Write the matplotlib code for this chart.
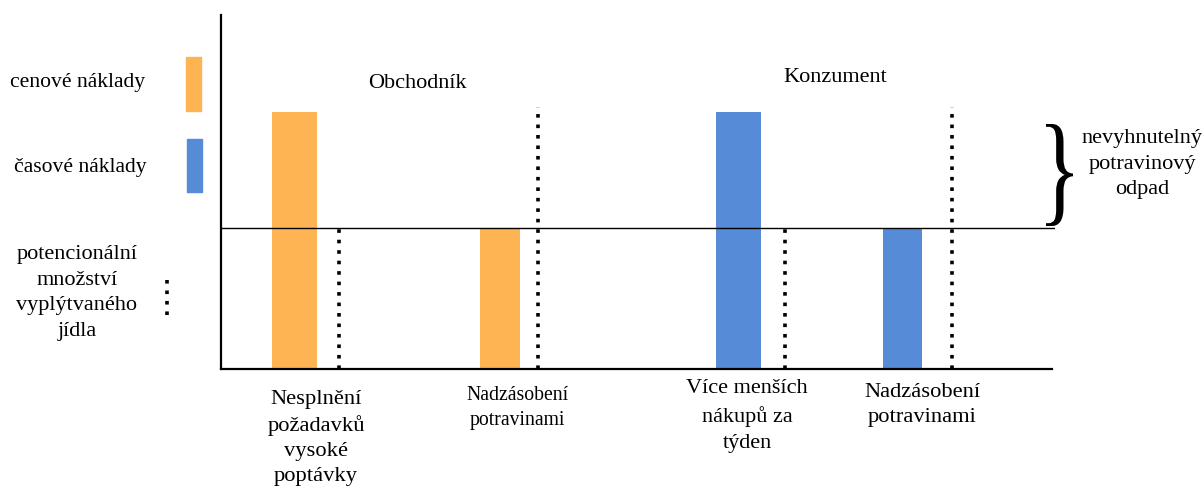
import numpy as np
import matplotlib
matplotlib.use('Agg')
import matplotlib.pyplot as plt
from matplotlib.patches import Rectangle, PathPatch
from matplotlib.textpath import TextPath
from matplotlib.font_manager import FontProperties
import matplotlib.transforms as mtransforms

plt.rcParams['font.family'] = ['Liberation Serif', 'DejaVu Serif']

# data
categories = ["Nesplnění\npožadavků\nvysoké\npoptávky", "Nadzásobení\npotravinami",
              "Více menších\nnákupů za\ntýden", "Nadzásobení\npotravinami"]
groups = ["Obchodník", "Konzument"]
cenove = [1.82, 1.0]          # orange bars (Obchodník)
casove = [1.82, 1.0]          # blue bars (Konzument)
potencial = [1.0, 1.86, 1.0, 1.86]   # dotted lines
neodvratitelny = 1.0          # horizontal threshold
legend_labels = ["cenové náklady", "časové náklady",
                 "potencionální\nmnožství\nvyplýtvaného\njídla"]
brace_label = "nevyhnutelný\npotravinový\nodpad"

orange = '#FFB454'
blue = '#568BD8'

W, H = 1204, 488
fig = plt.figure(figsize=(W / 100, H / 100), dpi=100)

def fx(px):
    return px / W

def fy(py):
    return 1 - py / H

ax = fig.add_axes([fx(221), fy(369), fx(1055) - fx(221), fy(15) - fy(369)])
ax.set_xlim(0, 8.34)
ax.set_ylim(0, 2.51)
for s in ['top', 'right']:
    ax.spines[s].set_visible(False)
ax.spines['left'].set_linewidth(1.6)
ax.spines['bottom'].set_linewidth(1.6)
ax.spines['bottom'].set_bounds(0, 8.31)
ax.set_xticks([])
ax.set_yticks([])

bar_x = [0.735, 2.79, 5.175, 6.815]
bar_w = [0.45, 0.40, 0.45, 0.39]
dot_x = [1.18, 3.17, 5.64, 7.31]
bar_vals = cenove + casove
bar_cols = [orange, orange, blue, blue]

ax.bar(bar_x, bar_vals, width=bar_w, color=bar_cols, zorder=2)
ax.axhline(neodvratitelny, color='black', lw=1.0, zorder=3)
for x, v in zip(dot_x, potencial):
    ax.vlines(x, 0, v, colors='black', linestyles=(0, (1, 1.9)), lw=2.6, zorder=4)

# category labels: x, y centre, fontsize, linespacing
cat_pos = [(316, 438, 16.2, 1.42), (517, 408, 14.2, 1.5), (747, 416, 16, 1.52),
           (922, 405, 16.2, 1.36)]
for lab, (x, y, fs, ls) in zip(categories, cat_pos):
    fig.text(fx(x), fy(y), lab, ha='center', va='center', fontsize=fs, linespacing=ls)

# group titles
fig.text(fx(417), fy(83), groups[0], ha='center', va='center', fontsize=16)
fig.text(fx(835), fy(77), groups[1], ha='center', va='center', fontsize=16)

# legend
fig.text(fx(78), fy(83), legend_labels[0], ha='center', va='center', fontsize=15.6)
fig.text(fx(80), fy(168), legend_labels[1], ha='center', va='center', fontsize=15.6)
fig.text(fx(77), fy(293), legend_labels[2], ha='center', va='center', fontsize=16,
         linespacing=1.47)
fig.add_artist(Rectangle((fx(186), fy(111)), fx(15), 54 / H, transform=fig.transFigure,
                         color=orange))
fig.add_artist(Rectangle((fx(187), fy(192)), fx(15), 53 / H, transform=fig.transFigure,
                         color=blue))
fig.add_artist(plt.Line2D([fx(167), fx(167)], [fy(280), fy(318)], transform=fig.transFigure,
                          color='black', lw=2.6, linestyle=(0, (1, 1.9))))

# brace
tp = TextPath((0, 0), "}", size=1, prop=FontProperties(family='Liberation Serif'))
ext = tp.get_extents()
bx0, bx1, by0, by1 = 1046, 1073, 124, 226
tr = (mtransforms.Affine2D()
      .translate(-ext.x0, -ext.y0)
      .scale((bx1 - bx0) / ext.width, (by1 - by0) / ext.height)
      .translate(bx0, H - by1))
fig.add_artist(PathPatch(tp, transform=tr, color='black', lw=0))
fig.text(fx(1142), fy(164), brace_label, ha='center', va='center', fontsize=16,
         linespacing=1.49)

fig.savefig('out.png', dpi=100)
